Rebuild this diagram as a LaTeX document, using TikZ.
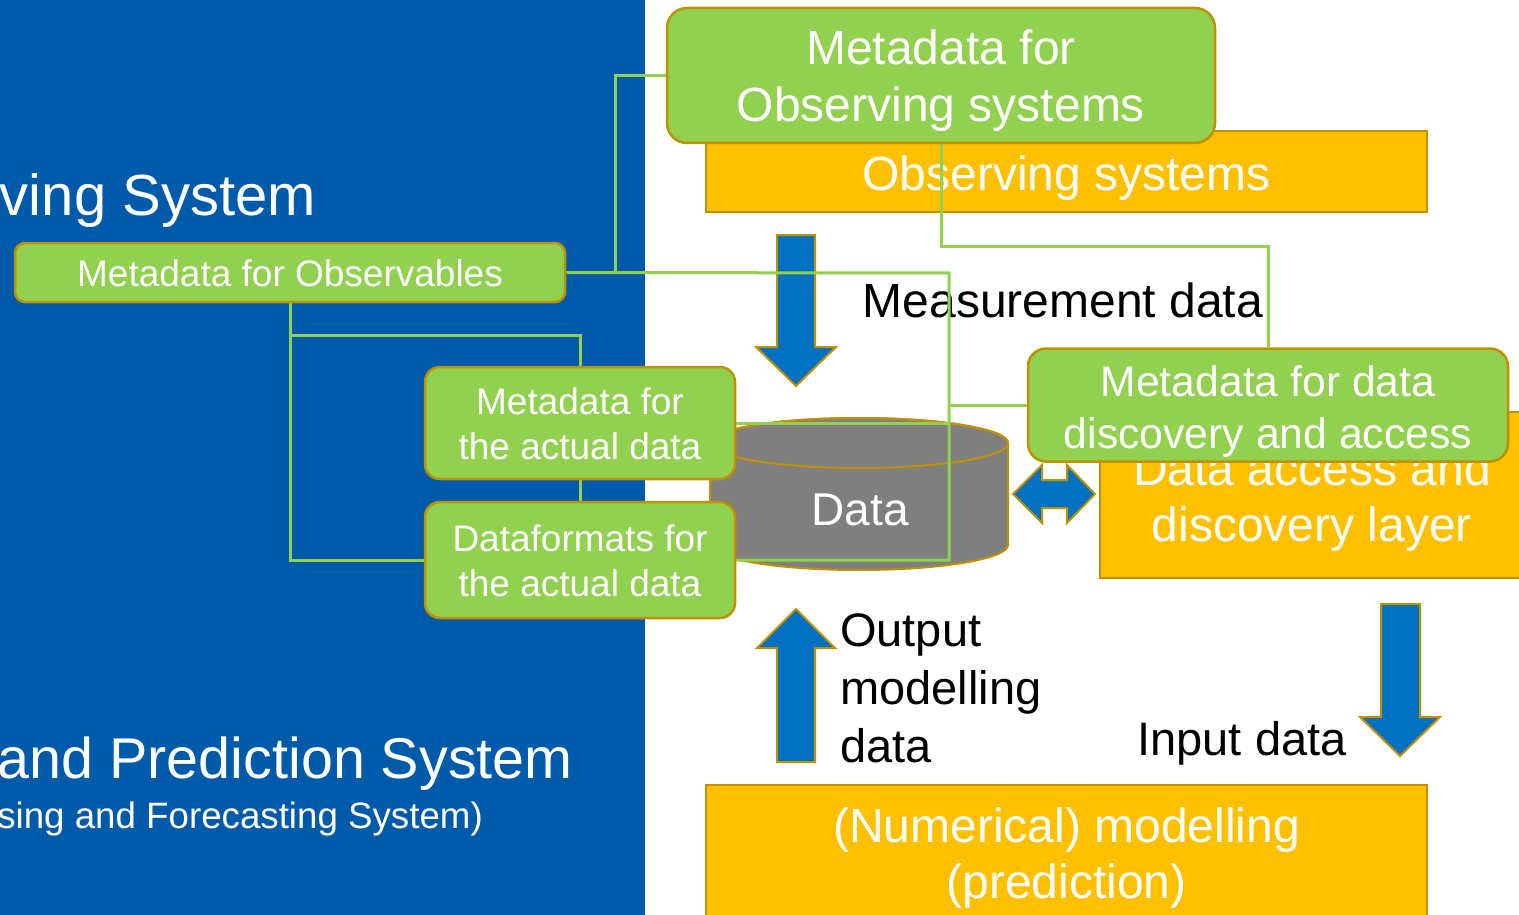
\documentclass[tikz,border=0pt]{standalone}
\usepackage{fontspec}
\setmainfont{Liberation Sans}
\definecolor{panelblue}{HTML}{005AAA}
\definecolor{boxgreen}{HTML}{92D050}
\definecolor{boxorange}{HTML}{FFC000}
\definecolor{edgegold}{HTML}{BF9000}
\definecolor{arrowblue}{HTML}{0070C0}
\definecolor{drumgray}{HTML}{7F7F7F}
\pgfdeclarelayer{back}
\pgfdeclarelayer{front}
\pgfdeclarelayer{fronttext}
\pgfsetlayers{back,main,front,fronttext}
\tikzset{
  greenbox/.style={draw=edgegold, fill=boxgreen, line width=2.5pt, inner sep=0pt},
  orangebox/.style={draw=edgegold, fill=boxorange, line width=2pt, inner sep=0pt},
  boxtext/.style={text=white, align=center, inner sep=0pt},
  link/.style={draw=boxgreen, line width=3pt},
  blockarrow/.style={fill=arrowblue, draw=edgegold, line width=2pt, line join=miter},
  label/.style={inner sep=0pt, text=black},
  paneltext/.style={inner sep=0pt, text=white, anchor=east},
}
\begin{document}
\begin{tikzpicture}[x=1pt,y=-1pt]
\useasboundingbox (0,0) rectangle (1519,915);
\clip (0,0) rectangle (1519,915);

\begin{pgfonlayer}{back}
  \fill[white] (0,0) rectangle (1519,915);
  \fill[panelblue] (0,0) rectangle (645,915);

  % titles on the blue panel
  \node[paneltext, font=\fontsize{58}{62}\selectfont] at (316,201) {ving System};
  \node[paneltext, font=\fontsize{57.5}{62}\selectfont] at (573,764) {and Prediction System};
  \node[paneltext, font=\fontsize{36.7}{40}\selectfont] at (483,819) {sing and Forecasting System)};

  % orange system layers
  \node[orangebox, minimum width=721pt, minimum height=81pt] (osys) at (1066.5,171.5) {};
  \node[boxtext, font=\fontsize{48}{56}\selectfont] (osys-t) at (1066.5,178) {Observing systems};
  \node[orangebox, minimum width=430pt, minimum height=166pt] (dal) at (1315,495) {};
  \node[boxtext, font=\fontsize{48}{56}\selectfont] (dal-t) at (1312,501) {Data access and\\discovery layer};
  \node[orangebox, minimum width=721pt, minimum height=136pt] (num) at (1066.5,853) {};
  \node[boxtext, font=\fontsize{48}{56}\selectfont] (num-t) at (1066.5,858) {(Numerical) modelling\\(prediction)};

  % data store drum
  \path[draw=edgegold, fill=drumgray, line width=2pt]
    (710,443) -- (710,545) arc[start angle=180, end angle=0, x radius=149, y radius=25]
    -- (1008,443) arc[start angle=0, end angle=-180, x radius=149, y radius=25] -- cycle;
  \draw[edgegold, line width=2pt] (859,443) ellipse[x radius=149, y radius=25];
  \node[inner sep=0pt, text=white, font=\fontsize{46}{50}\selectfont] (data) at (860,510) {Data};

  % block arrows
  \path[blockarrow] (777,235) -- (815,235) -- (815,347) -- (836,347) -- (796,386)
    -- (756,347) -- (777,347) -- cycle;
  \path[blockarrow] (777,762) -- (815,762) -- (815,648) -- (835,648) -- (796,609)
    -- (757,648) -- (777,648) -- cycle;
  \path[blockarrow] (1381,604) -- (1420,604) -- (1420,717) -- (1440,717) -- (1400,756)
    -- (1360,717) -- (1381,717) -- cycle;
  \path[blockarrow] (1013,494) -- (1042,465) -- (1042,480) -- (1067,480) -- (1067,465)
    -- (1095,494) -- (1067,523) -- (1067,508) -- (1042,508) -- (1042,523) -- cycle;

  % arrow captions
  \node[label, font=\fontsize{48}{56}\selectfont] (meas) at (1063,300) {Measurement data};
  \node[label, font=\fontsize{47}{58}\selectfont, align=left, anchor=west] (outp) at (840,688)
    {Output\\modelling\\data};
  \node[label, font=\fontsize{47}{56}\selectfont] (inp) at (1242,743) {Input data};
\end{pgfonlayer}

\begin{pgfonlayer}{front}
  \node[greenbox, minimum width=548pt, minimum height=135pt, rounded corners=20pt]
    (mos) at (941,75.5) {};
  \node[greenbox, minimum width=550pt, minimum height=59pt, rounded corners=10pt]
    (mobs) at (290,272.5) {};
  \node[greenbox, minimum width=310pt, minimum height=112pt, rounded corners=15pt]
    (mad) at (580,423) {};
  \node[greenbox, minimum width=310pt, minimum height=116pt, rounded corners=15pt]
    (dfmt) at (580,560) {};
  \node[greenbox, minimum width=480pt, minimum height=113pt, rounded corners=18pt]
    (mdd) at (1268,405) {};
\end{pgfonlayer}

\begin{pgfonlayer}{fronttext}
  \node[boxtext, font=\fontsize{48}{57}\selectfont] (mos-t) at (941,81) {Metadata for\\Observing systems};
  \node[boxtext, font=\fontsize{37}{44}\selectfont] (mobs-t) at (290,273.5) {Metadata for Observables};
  \node[boxtext, font=\fontsize{37}{45}\selectfont] (mad-t) at (580,424) {Metadata for\\the actual data};
  \node[boxtext, font=\fontsize{37}{45}\selectfont] (dfmt-t) at (580,561) {Dataformats for\\the actual data};
  \node[boxtext, font=\fontsize{42.7}{52}\selectfont] (mdd-t) at (1268,411) {Metadata for data\\discovery and access};
\end{pgfonlayer}

% metadata links
\coordinate (jl) at (615,273);
\coordinate (jr) at (949,273);
\coordinate (jt) at (941,246);
\coordinate (jo) at (290,335);
\draw[link] (mos.west) -| (jl);
\draw[link] (mobs.east) -- (jr) |- (dfmt.east);
\draw[link] (mad.east) -- (mad.east -| jr);
\draw[link] (mdd.west) -- (mdd.west -| jr);
\draw[link] (mos.south) -- (jt) -| (mdd.north);
\draw[link] (mobs.south) |- (dfmt.west);
\draw[link] (jo) -| (mad.north);
\draw[link] (mad.south) -- (dfmt.north);
\end{tikzpicture}
\end{document}
